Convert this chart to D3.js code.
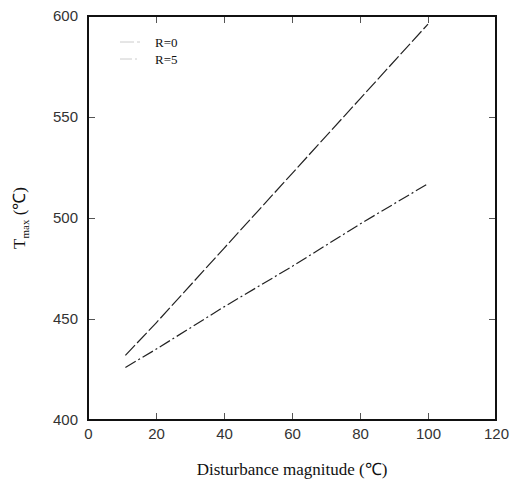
<!DOCTYPE html>
<html>
<head>
<meta charset="utf-8">
<script src="https://cdn.jsdelivr.net/npm/d3@7"></script>
<style>
body { margin: 0; background: #fff; }
</style>
</head>
<body>
<div id="chart"></div>
<script>
var width = 513
var height = 483
var margin = {left: 88, right: 17, top: 16, bottom: 63}

// data
var xTicks = [0, 20, 40, 60, 80, 100, 120]
var yTicks = [400, 450, 500, 550, 600]
var disturbance = [11, 20, 40, 60, 80, 100]
var tmaxR0 = [432, 448, 485, 522, 559, 596]
var tmaxR5 = [426, 435, 456, 476, 497, 517]
var seriesNames = ["R=0", "R=5"]

var x = d3.scaleLinear().domain([0, 120]).range([margin.left, width - margin.right])
var y = d3.scaleLinear().domain([400, 600]).range([height - margin.bottom, margin.top])

var svg = d3.select("#chart").append("svg")
    .attr("width", width)
    .attr("height", height)

// inner ticks on all four sides
var tickLen = 7
svg.append("g")
    .attr("transform", "translate(0," + y(400) + ")")
    .call(d3.axisBottom(x).tickValues(xTicks).tickSizeInner(-tickLen).tickSizeOuter(0).tickPadding(8))
    .call(function(g) { g.select(".domain").remove() })
svg.append("g")
    .attr("transform", "translate(0," + y(600) + ")")
    .call(d3.axisTop(x).tickValues(xTicks).tickSizeInner(-tickLen).tickSizeOuter(0).tickFormat(""))
    .call(function(g) { g.select(".domain").remove() })
svg.append("g")
    .attr("transform", "translate(" + x(0) + ",0)")
    .call(d3.axisLeft(y).tickValues(yTicks).tickSizeInner(-tickLen).tickSizeOuter(0).tickPadding(10))
    .call(function(g) { g.select(".domain").remove() })
svg.append("g")
    .attr("transform", "translate(" + x(120) + ",0)")
    .call(d3.axisRight(y).tickValues(yTicks).tickSizeInner(-tickLen).tickSizeOuter(0).tickFormat(""))
    .call(function(g) { g.select(".domain").remove() })

svg.selectAll(".tick line").attr("stroke", "#555").attr("stroke-width", 1)
svg.selectAll(".tick text")
    .style("font-family", "Liberation Sans, Arial, sans-serif")
    .style("font-size", "15px")
    .attr("fill", "#333")

// frame
svg.append("rect")
    .attr("x", x(0))
    .attr("y", y(600))
    .attr("width", x(120) - x(0))
    .attr("height", y(400) - y(600))
    .attr("fill", "none")
    .attr("stroke", "#111")
    .attr("stroke-width", 2)

var line = d3.line()
    .x(function(d, i) { return x(disturbance[i]) })
    .y(function(d) { return y(d) })

svg.append("path")
    .datum(tmaxR0)
    .attr("d", line)
    .attr("fill", "none")
    .attr("stroke", "#222")
    .attr("stroke-width", 1.2)
    .attr("stroke-dasharray", "14,3")

svg.append("path")
    .datum(tmaxR5)
    .attr("d", line)
    .attr("fill", "none")
    .attr("stroke", "#222")
    .attr("stroke-width", 1.2)
    .attr("stroke-dasharray", "12,3,2,3")

// legend
var legend = svg.append("g").attr("transform", "translate(120,0)")
var dashes = ["14,3", "12,3,2,3"]
seriesNames.forEach(function(name, i) {
    legend.append("line")
        .attr("x1", 0).attr("x2", 20)
        .attr("y1", 42 + i * 17).attr("y2", 42 + i * 17)
        .attr("stroke", "#ccc")
        .attr("stroke-width", 1)
        .attr("stroke-dasharray", dashes[i])
    legend.append("text")
        .attr("x", 35)
        .attr("y", 47 + i * 17)
        .style("font-family", "Liberation Serif, Times New Roman, serif")
        .style("font-size", "13px")
        .attr("fill", "#111")
        .text(name)
})

// axis titles
svg.append("text")
    .attr("x", (x(0) + x(120)) / 2)
    .attr("y", 475)
    .attr("text-anchor", "middle")
    .style("font-family", "Liberation Serif, Times New Roman, serif")
    .style("font-size", "17px")
    .attr("fill", "#111")
    .text("Disturbance magnitude (℃)")

var yTitle = svg.append("text")
    .attr("transform", "translate(25," + 218 + ") rotate(-90)")
    .attr("text-anchor", "middle")
    .style("font-family", "Liberation Serif, Times New Roman, serif")
    .style("font-size", "17px")
    .attr("fill", "#111")
yTitle.append("tspan").text("T")
yTitle.append("tspan").attr("dy", 4).style("font-size", "11px").text("max")
yTitle.append("tspan").attr("dy", -4).text(" (℃)")
</script>
</body>
</html>
